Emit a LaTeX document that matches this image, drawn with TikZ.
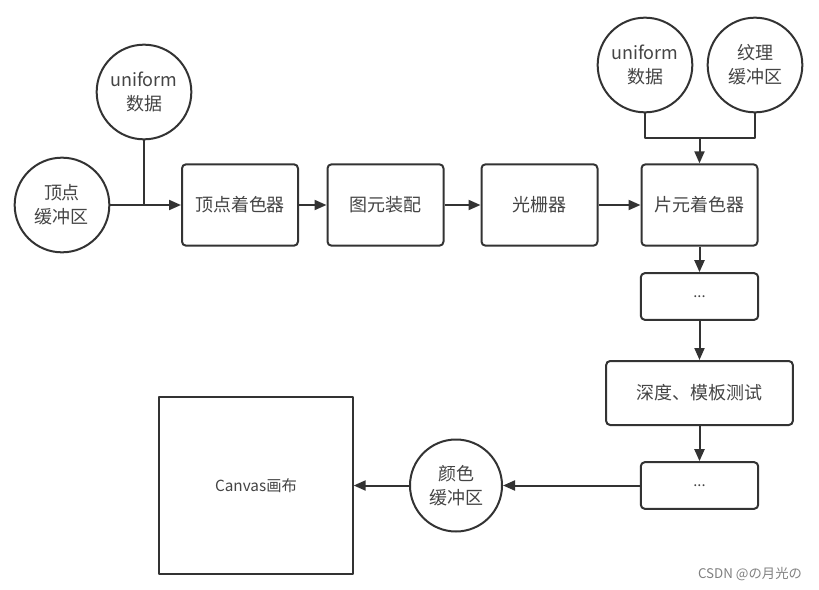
\documentclass[tikz,border=0pt]{standalone}
\usepackage{fontspec}
\setmainfont{Noto Sans CJK SC}
\usetikzlibrary{arrows.meta}
\definecolor{xian}{HTML}{333333}
\definecolor{zi}{HTML}{444444}
\begin{document}
\begin{tikzpicture}[x=0.75pt, y=-0.75pt, font=\fontsize{13.5}{18}\selectfont, line join=round, >={Triangle[length=9pt,width=7.5pt]},
	box/.style={draw=xian, line width=1.5pt, rounded corners=3pt, text=zi, align=center, inner sep=0pt, minimum width=87pt, minimum height=61pt},
	buf/.style={draw=xian, line width=1.5pt, circle, text=zi, align=center, inner sep=0pt, minimum size=71pt},
	jt/.style={xian, line width=1.5pt}]
	\useasboundingbox (0,0) rectangle (819,590);
	% 顶点阶段
	\node[buf] (vbuf) at (62,205) {顶点\\缓冲区};
	\node[buf] (uni1) at (144,92) {uniform\\数据};
	\node[box] (vs) at (240,205) {顶点着色器};
	\node[box] (pa) at (385.5,205) {图元装配};
	\node[box] (rs) at (539.5,205) {光栅器};
	\node[box] (fs) at (699.5,205) {片元着色器};
	% 片元输入
	\node[buf] (uni2) at (645,65) {uniform\\数据};
	\node[buf] (tex) at (755,65) {纹理\\缓冲区};
	\coordinate (hui) at (699.5,138);
	% 片元之后
	\node[box, minimum width=88pt, minimum height=35pt, font=\fontsize{11}{13}\selectfont] (dots1) at (699.5,296.5) {...};
	\node[box, minimum width=140pt, minimum height=48pt] (depth) at (699.5,393) {深度、模板测试};
	\node[box, minimum width=88pt, minimum height=35pt, font=\fontsize{11}{13}\selectfont] (dots2) at (699.5,485.5) {...};
	\node[buf, minimum size=69pt] (cbuf) at (456,485.5) {颜色\\缓冲区};
	\node[draw=xian, line width=1.5pt, text=zi, minimum width=145pt, minimum height=133pt, font=\fontsize{11.5}{14}\selectfont] (canvas) at (256,485.5) {Canvas画布};
	\node[text=gray, font=\fontsize{10}{12}\selectfont] (shuiyin) at (750,574) {CSDN @の月光の};
	% 连线
	\draw[jt,->] (vbuf) -- (vs);
	\draw[jt] (uni1.south) -- (uni1.south |- vs.west);
	\draw[jt,->] (vs) -- (pa);
	\draw[jt,->] (pa) -- (rs);
	\draw[jt,->] (rs) -- (fs);
	\draw[jt] (uni2.south) |- (hui) -| (tex.south);
	\draw[jt,->] (hui) -- (fs.north);
	\draw[jt,->] (fs) -- (dots1);
	\draw[jt,->] (dots1) -- (depth);
	\draw[jt,->] (depth) -- (dots2);
	\draw[jt,->] (dots2) -- (cbuf);
	\draw[jt,->] (cbuf) -- (canvas);
\end{tikzpicture}
\end{document}
